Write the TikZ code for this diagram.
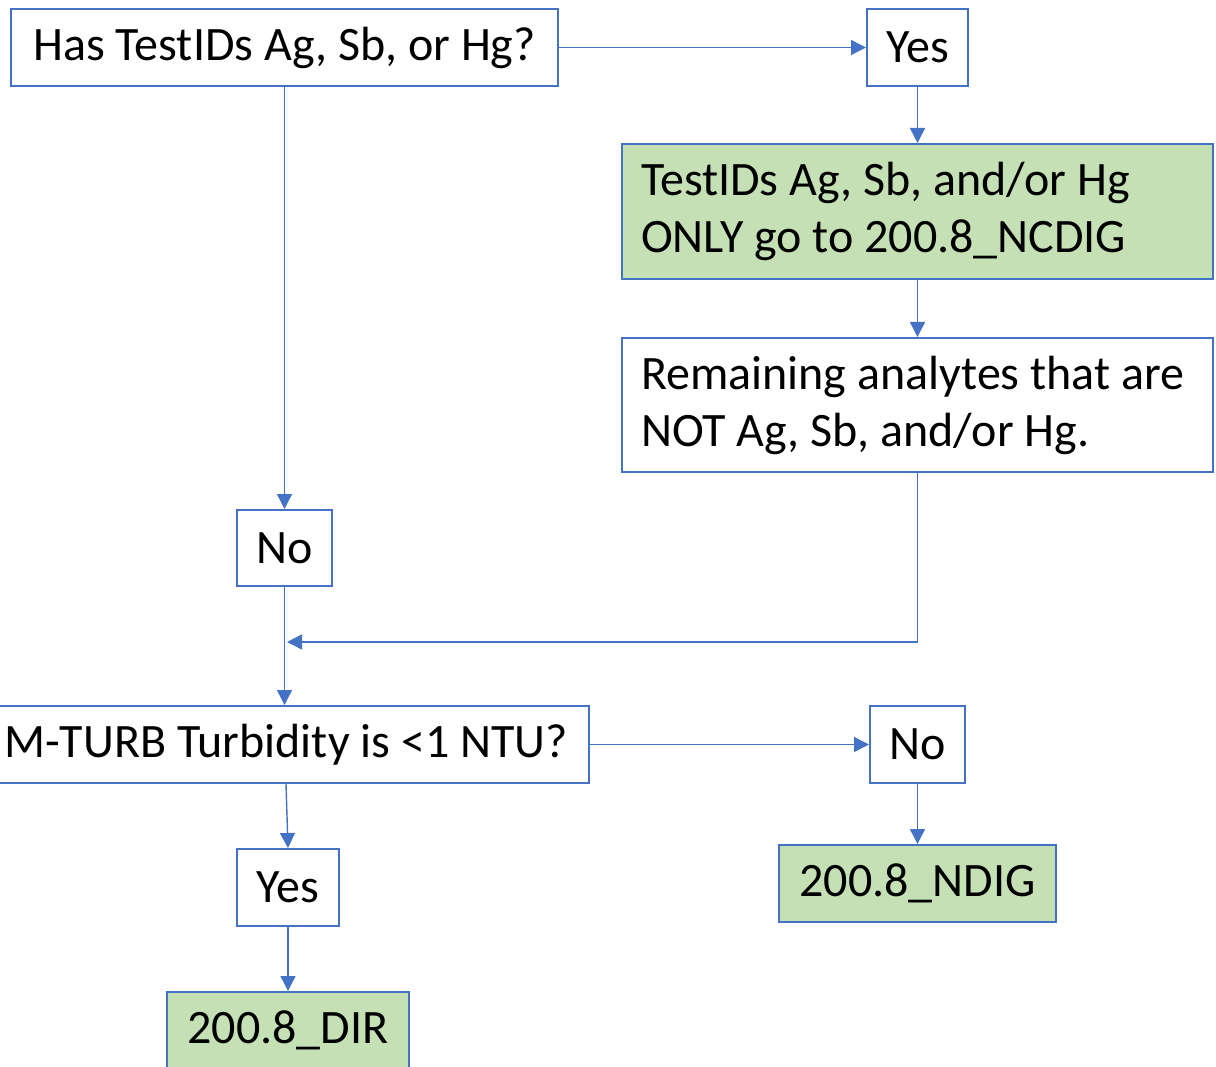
\documentclass[tikz,border=0pt]{standalone}
\usepackage{fontspec}
\setmainfont{Carlito}
\usetikzlibrary{arrows.meta}
\definecolor{flowblue}{HTML}{4472C4}
\definecolor{flowgreen}{HTML}{C5E0B4}
\begin{document}
\begin{tikzpicture}[x=1pt,y=-1pt,
  box/.style={draw=flowblue, line width=2pt, fill=white, inner sep=0pt,
    font=\fontsize{48}{57}\selectfont, text=black, anchor=north west},
  result/.style={box, fill=flowgreen},
  link/.style={draw=flowblue, line width=1.4pt, -{Triangle[length=15pt,width=15pt]}}]
\useasboundingbox (0,0) rectangle (1216,1067);
\clip (0,0) rectangle (1216,1067);

% first question and its branches
\node[box, minimum width=547pt, minimum height=77pt] (q1) at (10,8) {Has TestIDs Ag, Sb, or Hg?};
\node[box, minimum width=101pt, minimum height=77pt] (yes1) at (866,8) {Yes};
\node[result, text width=553pt, inner xsep=19pt, minimum height=135pt, align=flush left]
  (ncdig) at (621,143) {TestIDs Ag, Sb, and/or Hg\\ONLY go to 200.8\_NCDIG};
\node[box, text width=553pt, inner xsep=19pt, minimum height=134pt, align=flush left]
  (remain) at (621,337) {Remaining analytes that are\\NOT Ag, Sb, and/or Hg.};
\node[box, minimum width=95pt, minimum height=76pt] (no1) at (236,509) {No};
\coordinate (merge) at (287,642);

% turbidity question and its branches
\node[box, minimum width=606pt, minimum height=77pt] (q2) at (-18,705) {M-TURB Turbidity is <1 NTU?};
\node[box, minimum width=95pt, minimum height=77pt] (no2) at (869,705) {No};
\node[box, minimum width=102pt, minimum height=77pt] (yes2) at (236,848) {Yes};
\node[result, minimum width=277pt, minimum height=77pt] (ndig) at (778,844) {200.8\_NDIG};
\node[result, minimum width=242pt, minimum height=77pt] (dir) at (166,991) {200.8\_DIR};

% connectors
\draw[link] (q1.east) -- (yes1.west);
\draw[link] (q1.south) -- (no1.north);
\draw[link] (yes1.south) -- (ncdig.north);
\draw[link] (ncdig.south) -- (remain.north);
\draw[link] (remain.south) |- (merge);
\draw[link] (no1.south) -- (no1.south |- q2.north);
\draw[link] (q2.south) -- (yes2.north);
\draw[link] (q2.east) -- (no2.west);
\draw[link] (no2.south) -- (ndig.north);
\draw[link] (yes2.south) -- (dir.north);
\end{tikzpicture}
\end{document}
